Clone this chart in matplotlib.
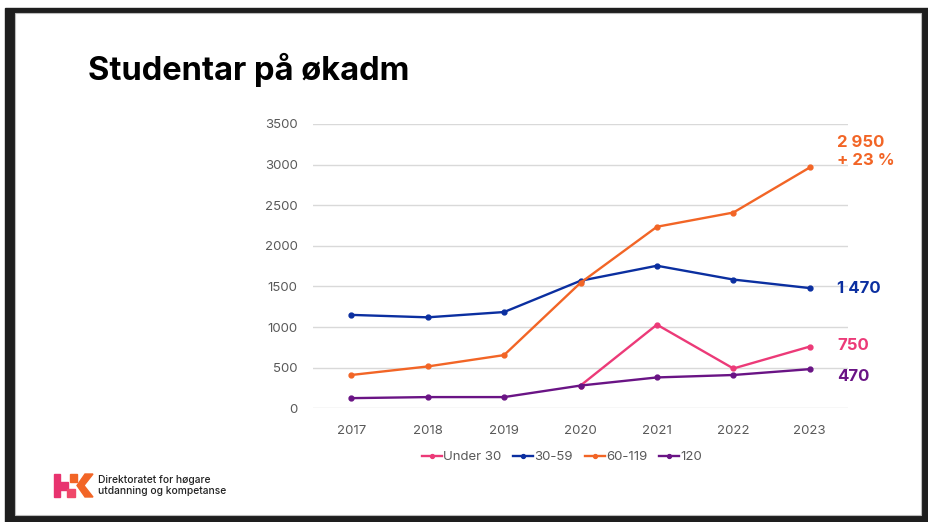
import matplotlib.pyplot as plt
from matplotlib.patches import Rectangle, Polygon

years = ['2017', '2018', '2019', '2020', '2021', '2022', '2023']
under30 = [None, None, None, 280, 1030, 490, 760]
age30_59 = [1150, 1120, 1185, 1570, 1755, 1585, 1480]
age60_119 = [410, 515, 655, 1545, 2235, 2410, 2965]
age120 = [125, 138, 138, 280, 380, 410, 482]

end_labels = ['750', '1 470', '2 950\n+ 23 %', '470']
end_label_y = [770, 1480, 3160, 395]

names = ['Under 30', '30-59', '60-119', '120']
colors = ['#EC3A78', '#0B2FA0', '#F26526', '#6A1485']

plt.rcParams['font.family'] = ['Inter', 'DejaVu Sans']

fig = plt.figure(figsize=(9.29, 5.22), dpi=100)
W, H = 929, 522

# slide frame
fig.patches.append(Rectangle((5 / W, 0), 1 - 5 / W, 1 - 8 / H, transform=fig.transFigure,
                             color='#1e1e1e', zorder=0))
fig.patches.append(Rectangle((15 / W, 1 - 515 / H), (921 - 15) / W, (515 - 13) / H,
                             transform=fig.transFigure, facecolor='white',
                             edgecolor='#bbbbbb', linewidth=0.8, zorder=1))

ax = fig.add_axes([313 / W, 1 - 408.3 / H, (848 - 313) / W, (408.3 - 124) / H])
ax.set_facecolor('none')
ax.set_zorder(2)

x = list(range(len(years)))
series = [under30, age30_59, age60_119, age120]
for vals, name, c in zip(series, names, colors):
    xs = [i for i, v in zip(x, vals) if v is not None]
    ys = [v for v in vals if v is not None]
    ax.plot(xs, ys, '-o', color=c, lw=1.7, ms=3.5, label=name)

ax.set_xlim(-0.5, 6.5)
ax.set_ylim(0, 3500)
ax.set_yticks(range(0, 3501, 500))
ax.set_xticks(x)
ax.set_xticklabels(years)
ax.grid(axis='y', color='#d9d9d9', lw=1)
ax.set_axisbelow(True)
for s in ax.spines.values():
    s.set_visible(False)
ax.tick_params(length=0, labelsize=9.5, labelcolor='#595959')
ax.tick_params(axis='x', pad=12)
ax.tick_params(axis='y', pad=11)

for lab, yv, c in zip(end_labels, end_label_y, colors):
    ax.text(6.36, yv, lab, color=c, fontsize=12, fontweight='bold', va='center',
            ha='left', linespacing=1.3, clip_on=False)

handles, labels = ax.get_legend_handles_labels()
fig.legend(handles, labels, loc='center', bbox_to_anchor=(562 / W, 1 - 457 / H), ncol=4,
           frameon=False, fontsize=9.5, labelcolor='#595959', handlelength=1.5,
           handletextpad=0.1, columnspacing=0.9, markerscale=0.8)

fig.text(88 / W, 1 - 70 / H, 'Studentar på økadm', fontsize=23.5, fontweight='bold',
         va='center', ha='left', color='black', zorder=3)

# logo
def px(xp, yp):
    return (xp / W, 1 - yp / H)

pink = '#E8336F'
orange = '#F26526'
shapes = [
    ([px(54, 474), px(60.5, 474), px(60.5, 497), px(54, 497)], pink),
    ([px(60.5, 482), px(68, 482), px(68, 490), px(60.5, 490)], pink),
    ([px(67, 489), px(75, 489), px(75, 497), px(67, 497)], '#F0486A'),
    ([px(70, 474), px(77, 474), px(77, 482), px(70, 482)], orange),
    ([px(85, 474), px(93, 474), px(84, 485.5), px(93, 497), px(85, 497), px(77, 485.5)], orange),
]
for pts, c in shapes:
    fig.patches.append(Polygon(pts, closed=True, transform=fig.transFigure, color=c, zorder=3))

fig.text(98 / W, 1 - 485.5 / H, 'Direktoratet for høgare\nutdanning og kompetanse',
         fontsize=7.4, fontweight='medium', va='center', ha='left', color='#222222',
         linespacing=1.2, zorder=3)

fig.savefig('out.png', dpi=100)
